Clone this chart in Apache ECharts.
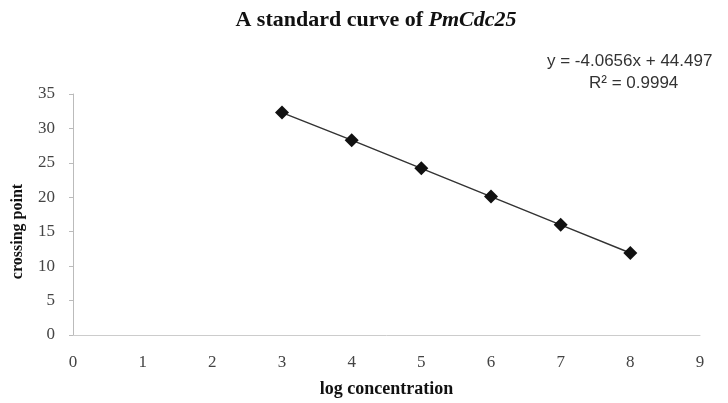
<!DOCTYPE html>
<html>
<head>
<meta charset="utf-8">
<script src="https://cdn.jsdelivr.net/npm/echarts@6/dist/echarts.min.js"></script>
<style>
  html, body { margin: 0; padding: 0; background: #fff; }
  #chart { width: 728px; height: 403px; }
</style>
</head>
<body>
<div id="chart"></div>
<script>
// log concentration vs crossing point
const logConc = [3, 4, 5, 6, 7, 8];
const crossingPoint = [32.3, 28.3, 24.2, 20.1, 16.0, 11.9];
const equation = "y = -4.0656x + 44.497";
const rSquared = "R² = 0.9994";

const chart = echarts.init(document.getElementById("chart"));

let points = [];
for (let i = 0; i < logConc.length; i++) {
    points.push([logConc[i], crossingPoint[i]]);
}

const serif = "'Liberation Serif', 'DejaVu Serif', serif";
const sans = "'Liberation Sans', Arial, sans-serif";

chart.setOption({
    animation: false,
    title: {
        text: "{b|A standard curve of }{i|PmCdc25}",
        left: 371,
        top: 4,
        textAlign: "center",
        textStyle: {
            rich: {
                b: { fontFamily: serif, fontWeight: "bold", fontSize: 22, color: "#111" },
                i: { fontFamily: serif, fontWeight: "bold", fontStyle: "italic", fontSize: 22, color: "#111" }
            }
        }
    },
    graphic: [
        {
            type: "text",
            left: 547,
            top: 53,
            style: { text: equation, fontFamily: sans, fontSize: 17, fill: "#333" }
        },
        {
            type: "text",
            left: 589,
            top: 75,
            style: { text: rSquared, fontFamily: sans, fontSize: 17, fill: "#333" }
        }
    ],
    grid: { left: 73, right: 28, top: 94, bottom: 62 },
    xAxis: {
        type: "value",
        min: 0,
        max: 9,
        interval: 1,
        name: "log concentration",
        nameLocation: "middle",
        nameGap: 45,
        nameTextStyle: { fontFamily: serif, fontWeight: "bold", fontSize: 18, color: "#111" },
        axisLine: { show: true, lineStyle: { color: "#ccc" } },
        axisTick: { show: false },
        splitLine: { show: false },
        axisLabel: { fontFamily: serif, fontSize: 17, color: "#444", margin: 19 }
    },
    yAxis: {
        type: "value",
        min: 0,
        max: 35,
        interval: 5,
        name: "crossing point",
        nameLocation: "middle",
        nameGap: 47,
        nameRotate: 90,
        nameTextStyle: { fontFamily: serif, fontWeight: "bold", fontSize: 16, color: "#111", padding: [0, 0, 0, -34] },
        axisLine: { show: true, lineStyle: { color: "#bbb" } },
        axisTick: { show: true, length: 4, lineStyle: { color: "#bbb" } },
        splitLine: { show: false },
        axisLabel: { fontFamily: serif, fontSize: 17, color: "#444", margin: 18 }
    },
    series: [
        {
            type: "line",
            data: points,
            symbol: "diamond",
            symbolSize: 14,
            itemStyle: { color: "#111" },
            lineStyle: { color: "#333", width: 1.5 }
        }
    ]
});
</script>
</body>
</html>
